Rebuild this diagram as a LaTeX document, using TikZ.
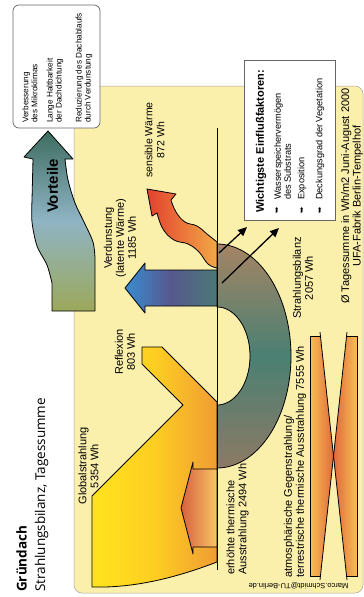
\documentclass[tikz,border=0pt]{standalone}
\usepackage{fontspec}
\setmainfont{Liberation Sans}
\newfontfamily\titlefont{Open Sans}
\newfontfamily\symfont{DejaVu Sans}
\usetikzlibrary{arrows.meta}
\definecolor{panelbg}{RGB}{251,239,172}
\definecolor{vtop}{RGB}{62,108,96}
\definecolor{vmid}{RGB}{143,180,196}
\definecolor{vbot}{RGB}{156,168,90}
\definecolor{blueL}{RGB}{58,140,210}
\definecolor{blueM}{RGB}{86,88,140}
\definecolor{blueR}{RGB}{74,122,118}
\definecolor{bandTop}{RGB}{165,132,100}
\definecolor{bandMid}{RGB}{74,128,115}
\definecolor{bandBot}{RGB}{140,122,100}
\definecolor{wavyR}{RGB}{226,66,46}
\definecolor{wavyO}{RGB}{242,168,70}
\definecolor{yelL}{RGB}{255,228,30}
\definecolor{yelM}{RGB}{253,206,34}
\definecolor{orR}{RGB}{240,156,52}
\definecolor{erhL}{RGB}{215,95,62}
\definecolor{erhR}{RGB}{248,200,100}
\definecolor{xdark}{RGB}{225,105,60}
\definecolor{xlight}{RGB}{247,190,82}
\begin{document}
\begin{tikzpicture}[x=1pt,y=-1pt,
  outline/.style={draw=black, line width=0.8pt, line join=round},
  lbl/.style={inner sep=0pt, rotate=90, font=\fontsize{11}{12}\selectfont, align=center},
  lblleft/.style={lbl, align=left, anchor=west},
  vitem/.style={inner sep=0pt, rotate=90, anchor=west, align=left, font=\fontsize{8.2}{9}\selectfont},
  eitem/.style={inner sep=0pt, rotate=90, anchor=west, align=left, font=\fontsize{9.2}{10}\selectfont},
  bul/.style={inner sep=0pt, rotate=90, font=\symfont\fontsize{7.5}{8}\selectfont},
  blackarrow/.style={draw=black, line width=1.3pt, -{Triangle[length=9pt,width=8pt]}},
  infobox/.style={fill=white, draw=black!60, line width=0.7pt}
]
\useasboundingbox (0,0) rectangle (364,597);
\fill[white] (0,0) rectangle (364,597);

% panel
\path[fill=panelbg, draw=black!35, line width=0.5pt, rounded corners=8pt] (74,86) rectangle (363,593);

% Strahlungsbilanz band
\path[shade, top color=bandTop, bottom color=bandBot, middle color=bandMid, outline]
  plot[domain=-90:90, samples=70] ({217+74*cos(\x)},{356+112*sin(\x)})
  -- plot[domain=90:-90, samples=50] ({217+33*cos(\x)},{356+49*sin(\x)}) -- cycle;

% Globalstrahlung / Reflexion
\path[shade, left color=yelL, right color=orR, middle color=yelM, outline]
  (92,496) -- (183,405) -- (142,364) -- (142,347) -- (162,347) -- (217,402)
  -- (217,562) .. controls (170,580) and (130,588) .. (92,587) -- cycle;

% erhoehte thermische Ausstrahlung
\path[shade, left color=erhL, right color=erhR, outline]
  (217,469) -- (193,469) -- (193,462) -- (181,508) -- (193,554) -- (193,547) -- (217,547) -- cycle;

% Verdunstung arrow
\path[shade, left color=blueL, right color=blueR, middle color=blueM, outline]
  (217,270) -- (145,270) -- (145,263) -- (125,288) -- (145,313) -- (145,306) -- (217,306) -- cycle;

% sensible Waerme wavy arrow
\path[shade, left color=wavyR, right color=wavyO, outline]
  (147,189) -- (176,194)
  -- plot[smooth, tension=0.7] coordinates {(171,200) (176,212) (185,222) (197,226) (207,234) (217,242)}
  -- plot[smooth, tension=0.7] coordinates {(217,268) (208,264) (199,252) (188,244) (174,240) (163,229) (157,213)}
  -- (152,216) -- cycle;

% ground line
\coordinate (ltop) at (217,128);
\coordinate (lbot) at (217,570);
\draw[line width=0.9pt] (ltop) -- (lbot);

% arrows towards factors
\coordinate (s1) at (219,253);
\coordinate (e1) at (247,227);
\coordinate (s2) at (222,283);
\coordinate (e2) at (279,228);
\draw[blackarrow] (s1) -- (e1);
\draw[blackarrow] (s2) -- (e2);

% atmospheric X shape
\path[shade, left color=xlight, right color=xdark]
  (310,336) -- (320.4,336) -- (333.5,456) -- (320.4,576) -- (310,576) -- cycle;
\path[shade, left color=xdark, right color=xlight]
  (357,336) -- (346.6,336) -- (333.5,456) -- (346.6,576) -- (357,576) -- cycle;
\draw[line width=0.8pt] (320.4,336) -- (310,336) -- (310,576) -- (320.4,576);
\draw[line width=0.8pt] (346.6,336) -- (357,336) -- (357,576) -- (346.6,576);
\draw[line width=0.8pt] (320,332) -- (347,580);
\draw[line width=0.8pt] (347,332) -- (320,580);

% Vorteile arrow
\path[shade, top color=vtop, bottom color=vbot, middle color=vmid, outline]
  (48,131) -- (73,159)
  -- plot[smooth] coordinates {(65,159) (68,180) (75,203) (84,222) (93,242) (95,258)}
  -- (95,311) -- (52,311)
  -- plot[smooth] coordinates {(52,283) (47,265) (37,246) (32,222) (32,200)}
  -- (33,159) -- (24,157) -- cycle;
\node[inner sep=0pt, rotate=90, font=\bfseries\fontsize{15}{16}\selectfont] (vort) at (52.5,186) {Vorteile};

% Vorteile box
\path[infobox, rounded corners=6pt] (13,5) rectangle (100,128);
\node[vitem] (v1) at (30,123) {Verbesserung\\des Mikroklimas};
\node[vitem] (v2) at (55,123) {Lange Haltbarkeit\\der Dachdichtung};
\node[vitem] (v3) at (84,123) {Reduzierung des Dachablaufs\\durch Verdunstung};

% Einflussfaktoren box
\path[infobox] (244,60) rectangle (335,220);
\node[inner sep=0pt, rotate=90, anchor=west, font=\bfseries\fontsize{11}{12}\selectfont] (etitle) at (261,213) {Wichtigste Einflußfaktoren:};
\node[bul] (b1) at (277,210) {➥};
\node[bul] (b2) at (302,210) {➥};
\node[bul] (b3) at (320,210) {➥};
\node[eitem] (f1) at (282.5,200) {Wasserspeichervermögen\\des Substrats};
\node[eitem] (f2) at (302,200) {Exposition};
\node[eitem] (f3) at (320,200) {Deckungsgrad der Vegetation};

% labels
\node[lbl, font=\fontsize{10.5}{12}\selectfont] (lsens) at (154.5,140) {sensible Wärme\\872 Wh};
\node[lbl] (lverd) at (120,238) {Verdunstung\\(latente Wärme)\\1185 Wh};
\node[lbl] (lrefl) at (125,352) {Reflexion\\803 Wh};
\node[lbl] (lglob) at (88.5,466) {Globalstrahlung\\5354 Wh};
\node[lbl] (lbil) at (303,278) {Strahlungsbilanz\\2057 Wh};
\node[lblleft] (lerh) at (237.5,575) {erhöhte thermische\\Ausstrahlung 2494 Wh};
\node[lblleft] (latm) at (295,578) {atmosphärische Gegenstrahlung/\\terrestrische thermische Ausstrahlung 7555 Wh};
\node[lbl, font=\fontsize{11}{11.5}\selectfont] (lsum) at (352,196) {Ø Tagessumme in Wh/m2 Juni-August 2000\\UFA-Fabrik Berlin-Tempelhof};
\node[inner sep=0pt, rotate=180, font=\fontsize{7.5}{8}\selectfont] (mail) at (298.5,585.5) {Marco.Schmidt@TU-Berlin.de};

% title
\node[inner sep=0pt, rotate=90, anchor=west, font=\titlefont\bfseries\fontsize{13.5}{15}\selectfont] (t1) at (21.5,592) {Gründach};
\node[inner sep=0pt, rotate=90, anchor=west, font=\titlefont\fontsize{13.5}{15}\selectfont] (t2) at (41.5,592) {Strahlungsbilanz, Tagessumme};
\end{tikzpicture}
\end{document}
